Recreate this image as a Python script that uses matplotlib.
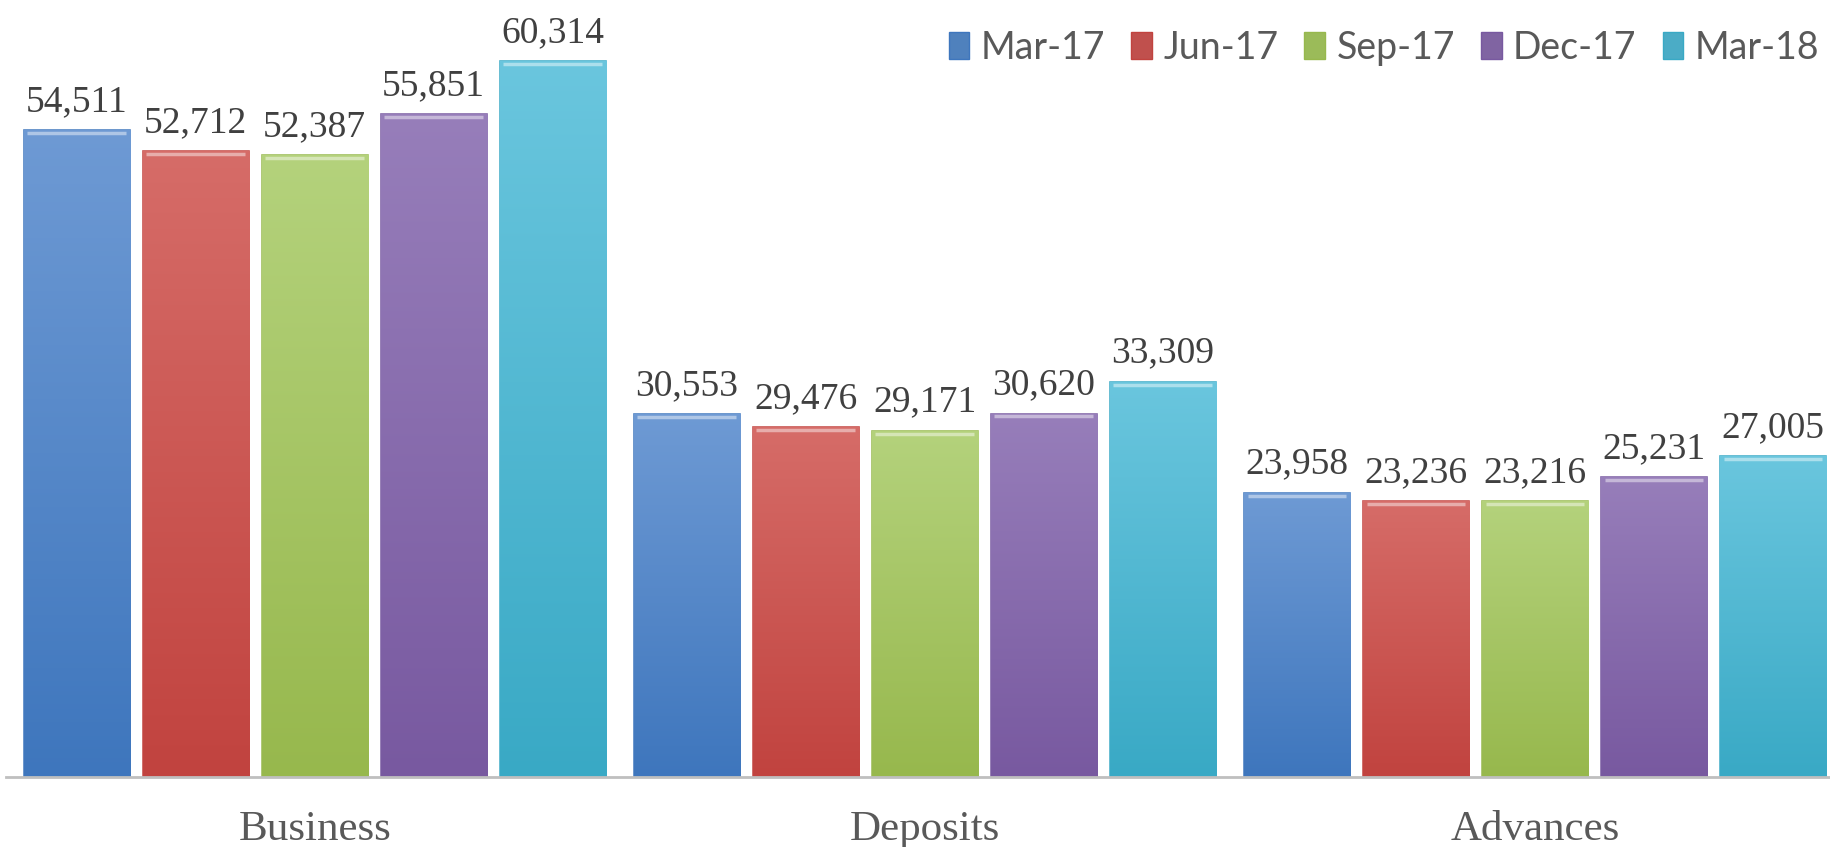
import numpy as np
import matplotlib.pyplot as plt
import matplotlib.colors as mcolors
from matplotlib.patches import Patch

# dati
categorie = ["Business", "Deposits", "Advances"]
periodi = ["Mar-17", "Jun-17", "Sep-17", "Dec-17", "Mar-18"]
mar17 = [54511, 30553, 23958]
jun17 = [52712, 29476, 23236]
sep17 = [52387, 29171, 23216]
dec17 = [55851, 30620, 25231]
mar18 = [60314, 33309, 27005]
serie = [mar17, jun17, sep17, dec17, mar18]

# colori (chiaro in alto, scuro in basso)
colori_top = ["#6E9AD4", "#D66C68", "#B4D27C", "#977EBA", "#6AC6DE"]
colori_bot = ["#3E76BD", "#C1433F", "#97B84D", "#7859A0", "#39A9C5"]
colori = ["#4F81BD", "#C0504D", "#9BBB59", "#8064A2", "#4BACC6"]

fig = plt.figure(figsize=(18.31, 8.47), dpi=100)
ax = fig.add_axes([0.0032, 0.0826, 0.9968, 0.9174])

x = np.arange(len(categorie))
passo = 0.195
larghezza = 0.174

for i, valori in enumerate(serie):
    pos = x + (i - 2) * passo
    barre = ax.bar(pos, valori, width=larghezza, color=colori[i],
                   edgecolor=mcolors.to_rgba(colori_bot[i], 0.9), linewidth=1.2,
                   zorder=2)
    cmap = mcolors.LinearSegmentedColormap.from_list("g", [colori_bot[i], colori_top[i]])
    for b, v in zip(barre, valori):
        x0 = b.get_x()
        grad = np.linspace(0, 1, 256).reshape(-1, 1)
        im = ax.imshow(grad, cmap=cmap, origin="lower", aspect="auto",
                       extent=[x0, x0 + larghezza, 0, v], zorder=2.5)
        im.set_clip_path(b)
        # bordo superiore chiaro (effetto smusso)
        ax.plot([x0 + 0.006, x0 + larghezza - 0.006], [v - 250, v - 250],
                color="white", alpha=0.45, linewidth=2.5, zorder=3,
                solid_capstyle="butt")
        ax.annotate(f"{v:,}", (b.get_x() + larghezza / 2, v),
                    xytext=(0, 8), textcoords="offset points",
                    ha="center", va="bottom", fontsize=27,
                    family="Liberation Serif", color="#404040")

ax.set_xlim(-0.506, 2.485)
ax.set_ylim(0, 65450)
ax.set_yticks([])
ax.set_xticks(x)
ax.set_xticklabels(categorie, fontsize=31, family="Liberation Serif", color="#595959")
ax.tick_params(axis="x", length=0, pad=24)
for lato in ["top", "right", "left"]:
    ax.spines[lato].set_visible(False)
ax.spines["bottom"].set_color("#BFBFBF")
ax.spines["bottom"].set_linewidth(2)
ax.spines["bottom"].set_zorder(4)

maniglie = [Patch(facecolor=colori[i], edgecolor=colori_bot[i], label=p)
            for i, p in enumerate(periodi)]
leg = fig.legend(handles=maniglie, loc="upper right", bbox_to_anchor=(1.012, 1.005),
                 ncol=5, frameon=False, prop={"family": "Lato", "size": 27},
                 labelcolor="#595959", handlelength=0.55, handleheight=0.75,
                 handletextpad=0.3, columnspacing=0.7)

fig.savefig("out.png", dpi=100)
